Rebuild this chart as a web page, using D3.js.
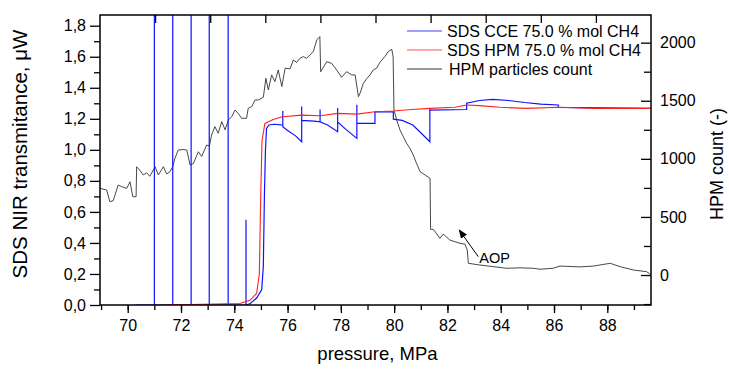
<!DOCTYPE html>
<meta charset="UTF-8">
<style>
  body { margin: 0; background: #fff; }
  text { font-family: "Liberation Sans", Arial, sans-serif; }
</style>
<script src="https://d3js.org/d3.v7.min.js"></script>
<svg id="chart" width="729" height="370"></svg>
<script>
// SDS CCE 75.0 % mol CH4 : [pressure MPa, transmitance uW]
var cceData = [
  [70.3,0],[71.0,0],[71.0,1.95],[71.0,0],[71.69,0],[71.69,1.95],[71.69,0],
  [72.38,0],[72.38,1.95],[72.38,0],[73.06,0],[73.06,1.95],[73.06,0],
  [73.77,0],[73.77,1.95],[73.77,0],[74.44,0],[74.44,0.55],[74.44,0],
  [74.6,0.01],[74.84,0.045],[75.03,0.1],[75.09,0.25],[75.13,0.7],[75.17,1.0],
  [75.21,1.138],[75.3,1.16],[75.5,1.165],[75.82,1.16],[75.82,1.25],[75.82,1.149],
  [76.0,1.125],[76.3,1.09],[76.53,1.052],[76.53,1.28],[76.53,1.19],[77.0,1.185],
  [77.22,1.18],[77.22,1.26],[77.22,1.18],[77.5,1.16],[77.88,1.117],[77.88,1.27],
  [77.88,1.18],[78.2,1.13],[78.6,1.074],[78.6,1.29],[78.6,1.17],[79.28,1.17],
  [79.28,1.245],[79.97,1.245],[79.97,1.198],[80.3,1.19],[80.7,1.16],[81.0,1.11],
  [81.34,1.052],[81.34,1.267],[81.34,1.256],[82.72,1.26],[82.72,1.30],[83.2,1.318],
  [83.7,1.325],[84.3,1.318],[84.9,1.305],[85.5,1.295],[86.16,1.289],[86.16,1.274],
  [89.64,1.267]
];

// SDS HPM 75.0 % mol CH4
var hpmData = [
  [71.44,0],[74.2,0.01],[74.59,0.03],[74.84,0.075],[74.94,0.2],[74.99,0.68],
  [75.04,1.06],[75.15,1.17],[75.46,1.195],[75.8,1.213],[76.53,1.224],[77.22,1.22],
  [77.88,1.235],[78.6,1.23],[79.28,1.245],[79.97,1.25],[80.66,1.26],[81.34,1.267],
  [82.28,1.274],[82.72,1.289],[83.2,1.285],[83.97,1.274],[84.97,1.267],[86.22,1.274],
  [87.5,1.267],[89.64,1.267]
];

// HPM particles count (second layer, its own pressure axis 70-90)
var countData = [
  [70.00,746],[70.24,732],[70.36,631],[70.48,640],[70.66,775],[70.79,760],[70.97,746],
  [71.09,803],[71.19,674],[71.31,674],[71.33,932],[71.45,900],[71.57,861],[71.69,880],
  [71.81,850],[72.00,932],[72.12,861],[72.30,932],[72.42,870],[72.54,890],[72.64,932],
  [72.72,1004],[72.84,1076],[73.02,1080],[73.15,1076],[73.27,947],[73.39,960],
  [73.57,1061],[73.69,1020],[73.87,1119],[73.97,1110],[74.05,1205],[74.17,1277],
  [74.29,1220],[74.42,1320],[74.54,1250],[74.66,1334],[74.78,1363],[74.90,1420],
  [75.02,1390],[75.14,1349],[75.32,1349],[75.38,1435],[75.51,1450],[75.63,1507],
  [75.75,1507],[75.93,1530],[76.02,1693],[76.11,1593],[76.23,1722],[76.35,1665],
  [76.47,1765],[76.60,1622],[76.72,1780],[76.90,1775],[77.02,1851],[77.14,1830],
  [77.26,1866],[77.38,1880],[77.50,1865],[77.74,1923],[77.87,2023],[77.98,2052],
  [78.01,1750],[78.23,1836],[78.41,1822],[78.59,1765],[78.77,1702],[78.95,1750],
  [79.14,1722],[79.26,1722],[79.38,1535],[79.44,1565],[79.56,1650],[79.68,1690],
  [79.80,1722],[79.92,1765],[80.04,1780],[80.16,1830],[80.34,1880],[80.46,1923],
  [80.59,1943],[80.64,1880],[80.67,1420],[80.77,1334],[80.89,1248],[81.01,1190],
  [81.13,1134],[81.25,1090],[81.37,1033],[81.49,960],[81.62,889],[81.80,861],
  [81.98,832],[82.00,393],[82.10,393],[82.34,316],[82.46,353],[82.70,301],
  [83.07,273],[83.25,265],[83.33,215],[83.37,101],[83.79,86],[84.28,72],[84.76,58],
  [85.25,62],[85.73,58],[85.97,50],[86.44,58],[86.70,77],[87.42,70],[87.91,77],
  [88.52,101],[88.88,72],[89.36,43],[89.84,29],[89.96,9]
];

var xTicks = [70, 72, 74, 76, 78, 80, 82, 84, 86, 88];
var yTicks = [0, 0.2, 0.4, 0.6, 0.8, 1.0, 1.2, 1.4, 1.6, 1.8];
var countTicks = [0, 500, 1000, 1500, 2000];
var seriesNames = ["SDS CCE 75.0 % mol CH4", "SDS HPM 75.0 % mol CH4", "HPM particles count"];

var svg = d3.select("#chart"),
  pLeft = 100, pRight = 651, pTop = 15, pBottom = 305;

var x = d3.scaleLinear().domain([68.96, 89.64]).range([pLeft, pRight]);
var x2 = d3.scaleLinear().domain([70, 90]).range([pLeft, pRight]);
var y = d3.scaleLinear().domain([0, 1.869]).range([pBottom, pTop]);
var yR = d3.scaleLinear().domain([-258, 2238]).range([pBottom, pTop]);

var defs = svg.append("defs");
defs.append("clipPath").attr("id", "clip")
  .append("rect").attr("x", pLeft).attr("y", pTop)
  .attr("width", pRight - pLeft).attr("height", pBottom - pTop);

var plot = svg.append("g").attr("clip-path", "url(#clip)");

var line = d3.line().x(function(d) { return x(d[0]); }).y(function(d) { return y(d[1]); });
var line2 = d3.line().x(function(d) { return x2(d[0]); }).y(function(d) { return yR(d[1]); });

plot.append("path").datum(countData).attr("d", line2)
  .attr("fill", "none").attr("stroke", "#333").attr("stroke-width", 0.9);
plot.append("path").datum(cceData).attr("d", line)
  .attr("fill", "none").attr("stroke", "#1010ff").attr("stroke-width", 1.2);
plot.append("path").datum(hpmData).attr("d", line)
  .attr("fill", "none").attr("stroke", "#ff2020").attr("stroke-width", 1.1);

// AOP annotation
defs.append("marker").attr("id", "arr")
  .attr("viewBox", "0 0 10 10").attr("refX", 9).attr("refY", 5)
  .attr("markerWidth", 9).attr("markerHeight", 9).attr("markerUnits", "userSpaceOnUse")
  .attr("orient", "auto")
  .append("path").attr("d", "M0,1 L10,5 L0,9 Z").attr("fill", "#000");
svg.append("line")
  .attr("x1", x2(83.73)).attr("y1", yR(158))
  .attr("x2", x2(83.04)).attr("y2", yR(387))
  .attr("stroke", "#000").attr("stroke-width", 1).attr("marker-end", "url(#arr)");
svg.append("text").attr("x", x2(83.77)).attr("y", yR(106))
  .style("font-size", "14.5px").text("AOP");

// frame
svg.append("rect").attr("x", pLeft).attr("y", pTop)
  .attr("width", pRight - pLeft).attr("height", pBottom - pTop)
  .attr("fill", "none").attr("stroke", "#000").attr("stroke-width", 1.5);

function styleAxis(g) {
  g.select(".domain").remove();
  g.selectAll("line").attr("stroke", "#000").attr("stroke-width", 1.3);
  g.selectAll("text").style("font-size", "16px").attr("fill", "#000")
    .style("font-family", "'Liberation Sans', Arial, sans-serif");
}

var fmt = function(d) { return d3.format(".1f")(d).replace(".", ","); };

// bottom
svg.append("g").attr("transform", "translate(0," + pBottom + ")")
  .call(d3.axisBottom(x).tickValues(d3.range(69, 90, 1)).tickSize(5).tickFormat(""))
  .call(styleAxis);
svg.append("g").attr("transform", "translate(0," + pBottom + ")")
  .call(d3.axisBottom(x).tickValues(xTicks).tickSize(8).tickPadding(7))
  .call(styleAxis);

// top (second layer axis, ticks inward)
svg.append("g").attr("transform", "translate(0," + pTop + ")")
  .call(d3.axisTop(x2).tickValues(d3.range(72, 89, 2)).tickSize(-8).tickFormat(""))
  .call(styleAxis);

// left
svg.append("g").attr("transform", "translate(" + pLeft + ",0)")
  .call(d3.axisLeft(y).tickValues(d3.range(0.1, 1.85, 0.2)).tickSize(6).tickFormat(""))
  .call(styleAxis);
svg.append("g").attr("transform", "translate(" + pLeft + ",0)")
  .call(d3.axisLeft(y).tickValues(yTicks).tickSize(10).tickPadding(4).tickFormat(fmt))
  .call(styleAxis);

// right (ticks inward)
svg.append("g").attr("transform", "translate(" + pRight + ",0)")
  .call(d3.axisRight(yR).tickValues([-250, 250, 750, 1250, 1750]).tickSize(-7).tickFormat(""))
  .call(styleAxis);
svg.append("g").attr("transform", "translate(" + pRight + ",0)")
  .call(d3.axisRight(yR).tickValues(countTicks).tickSize(-10).tickPadding(9).tickFormat(d3.format("d")))
  .call(styleAxis);

// axis titles
svg.append("text").attr("x", (pLeft + pRight) / 2 + 2).attr("y", 360)
  .attr("text-anchor", "middle").style("font-size", "18.5px").text("pressure, MPa");
svg.append("text").attr("transform", "translate(27,154) rotate(-90)")
  .attr("text-anchor", "middle").style("font-size", "20.5px").text("SDS NIR transmitance, \u03bcW");
svg.append("text").attr("transform", "translate(723,164) rotate(-90)")
  .attr("text-anchor", "middle").style("font-size", "18px").text("HPM count (-)");

// legend
var legColors = ["#4040ff", "#ff5050", "#333"];
var leg = svg.append("g").selectAll("g").data(seriesNames).enter().append("g")
  .attr("transform", function(d, i) { return "translate(407," + (31 + i * 19) + ")"; });
leg.append("line").attr("x1", 0).attr("x2", 35).attr("y1", 0).attr("y2", 0)
  .attr("stroke", function(d, i) { return legColors[i]; }).attr("stroke-width", 1.2);
leg.append("text").attr("x", function(d, i) { return i == 2 ? 42 : 40; }).attr("y", 5.5)
  .style("font-size", "16px").text(function(d) { return d; });
</script>
